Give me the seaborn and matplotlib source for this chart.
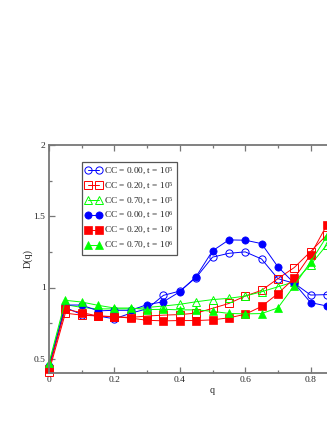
import numpy as np
import matplotlib
matplotlib.use("Agg")
import matplotlib.pyplot as plt
import seaborn as sns

# q grid (axis runs to 1.0, picture is cut near q = 0.85)
q = [0.00, 0.05, 0.10, 0.15, 0.20, 0.25, 0.30, 0.35, 0.40,
     0.45, 0.50, 0.55, 0.60, 0.65, 0.70, 0.75, 0.80, 0.85]

# D(q)
cc000_t5 = [0.45, 0.86, 0.81, 0.80, 0.78, 0.82, 0.85, 0.945, 0.975,
            1.07, 1.213, 1.24, 1.25, 1.20, 1.062, 1.03, 0.947, 0.95]
cc020_t5 = [0.41, 0.82, 0.806, 0.80, 0.794, 0.79, 0.80, 0.806, 0.81,
            0.82, 0.854, 0.888, 0.94, 0.98, 1.062, 1.14, 1.252, 1.37]
cc070_t5 = [0.46, 0.88, 0.86, 0.85, 0.85, 0.85, 0.86, 0.87, 0.882,
            0.90, 0.915, 0.924, 0.94, 0.97, 1.005, 1.04, 1.16, 1.30]
cc000_t6 = [0.44, 0.877, 0.877, 0.836, 0.84, 0.84, 0.88, 0.90, 0.97,
            1.077, 1.257, 1.334, 1.332, 1.308, 1.145, 1.03, 0.894, 0.87]
cc020_t6 = [0.43, 0.847, 0.824, 0.80, 0.796, 0.785, 0.77, 0.766, 0.768,
            0.768, 0.773, 0.787, 0.812, 0.867, 0.957, 1.065, 1.23, 1.44]
cc070_t6 = [0.47, 0.91, 0.898, 0.875, 0.856, 0.856, 0.845, 0.847, 0.843,
            0.843, 0.833, 0.818, 0.815, 0.817, 0.857, 1.013, 1.18, 1.36]

labels = ["CC = 0.00, t = 10$^{5}$", "CC = 0.20, t = 10$^{5}$",
          "CC = 0.70, t = 10$^{5}$", "CC = 0.00, t = 10$^{6}$",
          "CC = 0.20, t = 10$^{6}$", "CC = 0.70, t = 10$^{6}$"]


def setup_style():
    sns.set_style("ticks")
    plt.rcParams["font.family"] = ["Liberation Serif", "DejaVu Serif"]
    plt.rcParams["mathtext.fontset"] = "custom"
    plt.rcParams["mathtext.rm"] = "Liberation Serif"
    plt.rcParams["mathtext.it"] = "Liberation Serif:italic"


def draw(ax):
    series = [cc000_t5, cc020_t5, cc070_t5, cc000_t6, cc020_t6, cc070_t6]
    colors = ["#0000ff", "#ff0000", "#00ff00"] * 2
    markers = ["o", "s", "^"] * 2
    filled = [False] * 3 + [True] * 3
    for vals, lab, col, mk, fill in zip(series, labels, colors, markers, filled):
        sns.lineplot(x=q, y=vals, ax=ax, label=lab, color=col, marker=mk,
                     markersize=5.2, linewidth=0.7,
                     markerfacecolor=col if fill else "none",
                     markeredgecolor=col, markeredgewidth=0.7 if not fill else 0.5,
                     clip_on=False, sort=False)


def customize(ax):
    ax.set_xlim(0, 1)
    ax.set_ylim(0.4, 2)
    ax.set_xticks([0, 0.2, 0.4, 0.6, 0.8])
    ax.set_xticklabels(["0", "0.2", "0.4", "0.6", "0.8"])
    ax.set_xticks(np.arange(0.1, 1.0, 0.2), minor=True)
    ax.set_yticks([0.5, 1, 1.5, 2])
    ax.set_yticklabels(["0.5", "1", "1.5", "2"])
    ax.set_yticks([0.75, 1.25, 1.75], minor=True)
    for sp in ax.spines.values():
        sp.set_visible(True)
        sp.set_color("#777777")
        sp.set_linewidth(1.3)
    ax.tick_params(which="both", direction="in", top=True, right=True,
                   color="#777777", labelsize=6.8, pad=2.5)
    ax.tick_params(which="major", length=4.5, width=0.9)
    ax.tick_params(which="minor", length=2.5, width=0.9)
    ax.set_xlabel("q", fontsize=7.2, labelpad=1)
    ax.set_ylabel("D(q)", fontsize=7.2, labelpad=1)
    leg = ax.legend(loc="upper left", bbox_to_anchor=(0.101, 0.925),
                    borderaxespad=0, numpoints=2, fontsize=6.7,
                    handlelength=1.8, handletextpad=0.25, labelspacing=0.38,
                    borderpad=0.35, fancybox=False, framealpha=1)
    leg.get_frame().set_edgecolor("#555555")
    leg.get_frame().set_linewidth(0.9)


def main():
    setup_style()
    fig = plt.figure(figsize=(3.27, 4.23), dpi=100)
    ax = fig.add_axes([49 / 327, 50 / 423, 327 / 327, 228 / 423])
    draw(ax)
    customize(ax)
    fig.savefig("out.png", dpi=100)


if __name__ == "__main__":
    main()
